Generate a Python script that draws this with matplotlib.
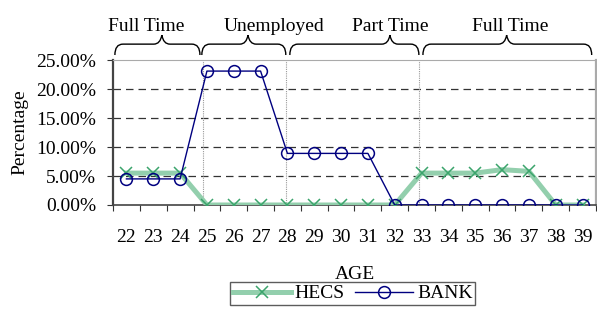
import numpy as np
import matplotlib
matplotlib.use("Agg")
import matplotlib.pyplot as plt
from matplotlib.path import Path
from matplotlib.patches import PathPatch
from matplotlib.lines import Line2D

plt.rcParams['font.family'] = ['Liberation Serif', 'DejaVu Serif']

ages = list(range(22, 40))
hecs = [5.5, 5.5, 5.5, 0, 0, 0, 0, 0, 0, 0, 0, 5.5, 5.5, 5.5, 6.1, 5.8, 0, 0]
bank = [4.5, 4.5, 4.5, 23.1, 23.1, 23.1, 8.9, 8.9, 8.9, 8.9, 0, 0, 0, 0, 0, 0, 0, 0]
yticks = [0, 5, 10, 15, 20, 25]
phases = ["Full Time", "Unemployed", "Part Time", "Full Time"]
phase_bounds = [(-0.43, 2.74), (2.81, 5.94), (6.09, 10.9), (11.05, 17.34)]
phase_tips = [1.32, 4.53, 9.82, 14.17]
phase_text = [0.73, 5.5, 9.82, 14.32]
phase_lines = [2.87, 5.93, 10.89]

FS = 14
fig = plt.figure(figsize=(5.97, 3.09), dpi=100)
ax = fig.add_axes([0.1893, 0.3366, 0.809, 0.469])
x = np.arange(len(ages))

green_line = '#93cfad'
green_mark = '#3ba46c'
navy = '#000080'

ax.plot(x, hecs, color=green_line, lw=3.6, solid_joinstyle='round', zorder=3)
ax.plot(x, hecs, ls='none', marker='x', ms=9, mew=1.1, color=green_mark, zorder=4)
ax.plot(x, bank, color=navy, lw=1.0, marker='o', ms=8.5, mfc='none', mec=navy, mew=1.1, zorder=5)

ax.set_xlim(-0.5, len(ages) - 0.5)
ax.set_ylim(0, 25)
ax.set_yticks(yticks)
ax.set_yticklabels([f"{v:.2f}%" for v in yticks], fontsize=FS)
for v in yticks[1:-1]:
    ax.axhline(v, color='#333333', lw=0.9, ls=(0, (6, 4)), zorder=1)
for v in phase_lines:
    ax.axvline(v, color='#999999', lw=0.8, ls=(0, (1, 1)), zorder=1)

ax.set_xticks(np.arange(-0.5, len(ages), 1))
ax.set_xticklabels([])
ax.set_xticks(x, minor=True)
ax.set_xticklabels([str(a) for a in ages], minor=True, fontsize=FS)
ax.tick_params(axis='x', which='major', direction='out', length=4, color='#333333')
ax.tick_params(axis='x', which='minor', length=0, pad=17)
ax.tick_params(axis='y', direction='out', length=4, color='#333333', pad=8)

ax.spines['left'].set_color('#444444')
ax.spines['left'].set_linewidth(1.6)
ax.spines['bottom'].set_color('#444444')
ax.spines['bottom'].set_linewidth(1.2)
ax.spines['top'].set_color('#aaaaaa')
ax.spines['right'].set_color('#aaaaaa')
ax.spines['right'].set_linewidth(1.6)

ax.set_ylabel("Percentage", fontsize=FS, labelpad=6)
ax.set_xlabel("AGE", fontsize=FS, labelpad=15)

# curly braces above the plot
trans = ax.get_xaxis_transform()
def brace(x0, x1, xm, yb=1.035, ym=1.11, yt=1.172):
    r = 0.3
    verts = [(x0, yb), (x0, ym), (x0 + r, ym),
             (xm - r, ym), (xm - r * 0.2, ym), (xm, yt),
             (xm + r * 0.2, ym), (xm + r, ym),
             (x1 - r, ym), (x1, ym), (x1, yb)]
    codes = [Path.MOVETO, Path.CURVE3, Path.CURVE3,
             Path.LINETO, Path.CURVE3, Path.CURVE3,
             Path.CURVE3, Path.CURVE3,
             Path.LINETO, Path.CURVE3, Path.CURVE3]
    ax.add_patch(PathPatch(Path(verts, codes), transform=trans, fc='none',
                           ec='black', lw=1.0, clip_on=False))

for name, (a, b), tip, tx in zip(phases, phase_bounds, phase_tips, phase_text):
    brace(a, b, tip)
    ax.text(tx, 1.2, name, transform=trans, ha='center', va='baseline', fontsize=FS)

h1 = Line2D([], [], color=green_line, lw=3.6, marker='x', ms=9, mew=1.1, mec=green_mark)
h2 = Line2D([], [], color=navy, lw=1.0, marker='o', ms=8.5, mfc='none', mec=navy, mew=1.1)
fig.legend([h1, h2], ["HECS", "BANK"], loc='upper center', bbox_to_anchor=(0.5905, 0.088),
           ncol=2, fontsize=FS, frameon=True, fancybox=False, edgecolor='#333333',
           handlelength=3.0, handletextpad=0.2, columnspacing=0.5, borderpad=0.15,
           borderaxespad=0)

fig.savefig("out.png", dpi=100)
